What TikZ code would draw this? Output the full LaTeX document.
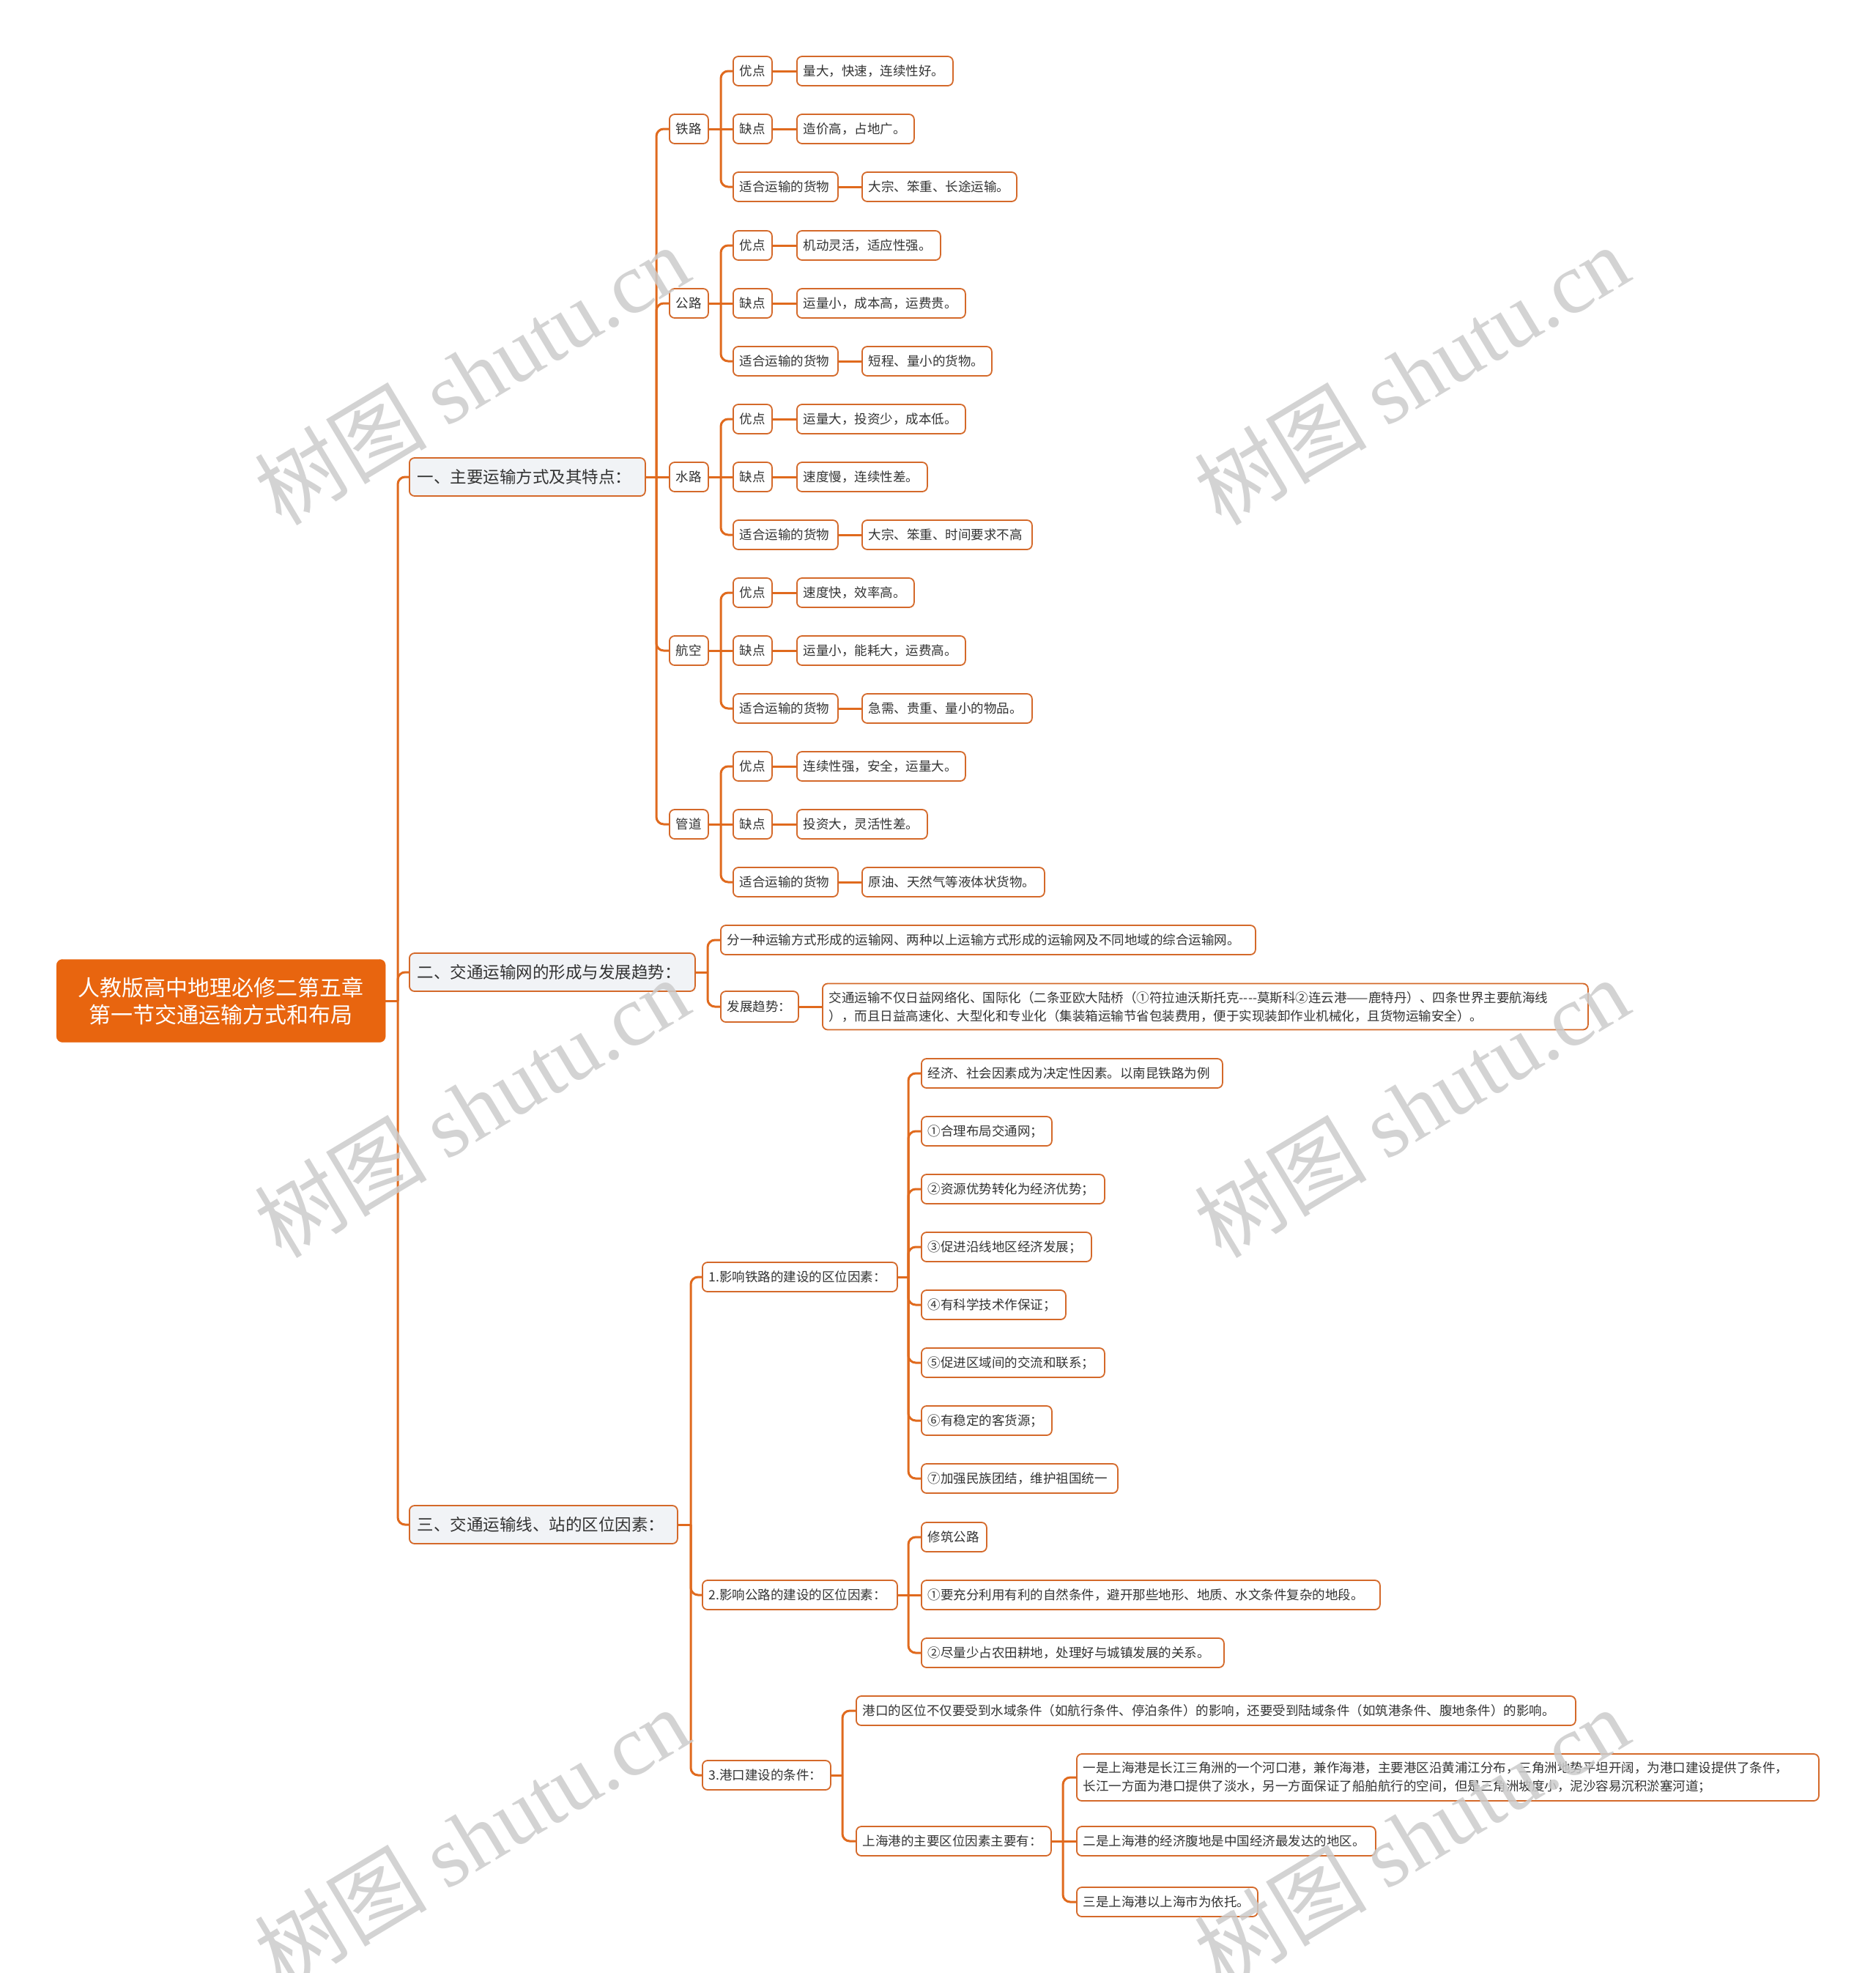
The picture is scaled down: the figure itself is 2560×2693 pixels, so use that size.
\documentclass[tikz,border=0pt]{standalone}
\usepackage{fontspec}
\setmainfont{Noto Sans CJK SC}
\newfontfamily\wmlatin{Liberation Serif}
\definecolor{rootcol}{HTML}{E8650F}
\definecolor{bordercol}{HTML}{D4692A}
\definecolor{linecol}{HTML}{E06A1E}
\definecolor{lvlfill}{HTML}{F1F3F6}
\definecolor{textcol}{HTML}{333333}
\definecolor{wmcol}{HTML}{CCCCCC}
\pgfdeclarelayer{bglayer}
\pgfsetlayers{bglayer,main}
\tikzset{
  conn/.style={draw=linecol, line width=3pt},
  mmw/.code={\pgfmathsetlengthmacro\mmtwidth{#1pt-18pt}\edef\mmtmp{\noexpand\tikzset{text width=\mmtwidth}}\mmtmp},
  mmbox/.style={draw=bordercol, line width=1.8pt, rounded corners=7pt, fill=white, anchor=west,
    inner xsep=9pt, inner ysep=0pt, minimum height=40pt, text=textcol, align=left,
    font=\fontsize{17.5}{25}\selectfont},
  mmlvl/.style={mmbox, fill=lvlfill, inner xsep=11pt, minimum height=52pt, font=\fontsize{22.5}{30}\selectfont},
  mmroot/.style={fill=rootcol, draw=rootcol, rounded corners=8pt, anchor=west, minimum height=113pt,
    text width=429pt, inner xsep=10pt, align=center, text=white, font=\fontsize{30}{37}\selectfont},
  wm/.style={text=wmcol, opacity=0.85, rotate=31, font=\fontsize{118}{130}\selectfont},
}
\newcommand\mmlink[3]{\draw[conn] (#1.east) -- (#1.east -| #2);
  \draw[conn, rounded corners=10pt] (#1.east -| #2) |- (#3.west);}
\newcommand\mmstraight[2]{\draw[conn] (#1.east) -- (#2.west);}
\newcommand\mmgroup[9]{%
  \node[mmbox,mmw=53] (#1) at (913,#3) {#2};
  \node[mmbox,mmw=53] (#1A) at (1000,#3-79) {优点};
  \node[mmbox,mmw=53] (#1B) at (1000,#3) {缺点};
  \node[mmbox,mmw=143] (#1C) at (1000,#3+79) {适合运输的货物};
  \node[mmbox,mmw=#5] (#1AV) at (1087,#3-79) {#4};
  \node[mmbox,mmw=#7] (#1BV) at (1087,#3) {#6};
  \node[mmbox,mmw=#9] (#1CV) at (1176,#3+79) {#8};
}
\newcommand\mmgroupconn[1]{%
  \mmlink{s1}{j1}{#1}
  \mmlink{#1}{j1b}{#1A}
  \mmstraight{#1}{#1B}
  \mmlink{#1}{j1b}{#1C}
  \mmstraight{#1A}{#1AV}
  \mmstraight{#1B}{#1BV}
  \mmstraight{#1C}{#1CV}
}
\begin{document}
\begin{tikzpicture}[x=1pt,y=-1pt]
\begin{pgfonlayer}{bglayer}
\fill[white] (0,0) rectangle (2560,2693);
\end{pgfonlayer}
\useasboundingbox (0,0) rectangle (2560,2693);

\coordinate (j0) at (543,0);
\coordinate (j1) at (896,0);
\coordinate (j1b) at (984,0);
\coordinate (j2) at (966,0);
\coordinate (j3) at (943,0);
\coordinate (j3a) at (1240,0);
\coordinate (j3c) at (1150,0);
\coordinate (j3d) at (1451,0);

% root and level 1
\node[mmroot] (root) at (77,1366) {人教版高中地理必修二第五章\\第一节交通运输方式和布局};
\node[mmlvl, text width=300pt] (s1) at (558,651) {一、主要运输方式及其特点：};
\node[mmlvl, text width=368pt] (s2) at (558,1327) {二、交通运输网的形成与发展趋势：};
\node[mmlvl, text width=344pt] (s3) at (558,2081) {三、交通运输线、站的区位因素：};

% section 1
\mmgroup{tl}{铁路}{176}{量大，快速，连续性好。}{213}{造价高，占地广。}{160}{大宗、笨重、长途运输。}{211}
\mmgroup{gl}{公路}{414}{机动灵活，适应性强。}{196}{运量小，成本高，运费贵。}{230}{短程、量小的货物。}{177}
\mmgroup{sl}{水路}{651}{运量大，投资少，成本低。}{230}{速度慢，连续性差。}{178}{大宗、笨重、时间要求不高}{232}
\mmgroup{hk}{航空}{888}{速度快，效率高。}{160}{运量小，能耗大，运费高。}{230}{急需、贵重、量小的物品。}{232}
\mmgroup{gd}{管道}{1125}{连续性强，安全，运量大。}{230}{投资大，灵活性差。}{178}{原油、天然气等液体状货物。}{249}

% section 2
\node[mmbox,mmw=730] (n2a) at (983,1283) {分一种运输方式形成的运输网、两种以上运输方式形成的运输网及不同地域的综合运输网。};
\node[mmbox,mmw=106,minimum height=42pt] (n2b) at (983,1374) {发展趋势：};
\node[mmbox,mmw=1045,minimum height=63pt] (n2c) at (1122,1374) {交通运输不仅日益网络化、国际化（二条亚欧大陆桥（①符拉迪沃斯托克-{}-{}-{}-莫斯科②连云港——鹿特丹）、四条世界主要航海线\\），而且日益高速化、大型化和专业化（集装箱运输节省包装费用，便于实现装卸作业机械化，且货物运输安全）。};

% section 3
\node[mmbox,mmw=266] (r1) at (958,1743) {1.影响铁路的建设的区位因素：};
\node[mmbox,mmw=266] (r2) at (958,2177) {2.影响公路的建设的区位因素：};
\node[mmbox,mmw=175] (r3) at (958,2423) {3.港口建设的条件：};

\node[mmbox,mmw=411] (r1a) at (1257,1465) {经济、社会因素成为决定性因素。以南昆铁路为例};
\node[mmbox,mmw=178] (r1b) at (1257,1544) {①合理布局交通网；};
\node[mmbox,mmw=250] (r1c) at (1257,1623) {②资源优势转化为经济优势；};
\node[mmbox,mmw=232] (r1d) at (1257,1702) {③促进沿线地区经济发展；};
\node[mmbox,mmw=197] (r1e) at (1257,1781) {④有科学技术作保证；};
\node[mmbox,mmw=250] (r1f) at (1257,1860) {⑤促进区域间的交流和联系；};
\node[mmbox,mmw=178] (r1g) at (1257,1939) {⑥有稳定的客货源；};
\node[mmbox,mmw=268] (r1h) at (1257,2018) {⑦加强民族团结，维护祖国统一};

\node[mmbox,mmw=89] (r2a) at (1257,2098) {修筑公路};
\node[mmbox,mmw=626] (r2b) at (1257,2177) {①要充分利用有利的自然条件，避开那些地形、地质、水文条件复杂的地段。};
\node[mmbox,mmw=413] (r2c) at (1257,2256) {②尽量少占农田耕地，处理好与城镇发展的关系。};

\node[mmbox,mmw=982] (r3a) at (1168,2335) {港口的区位不仅要受到水域条件（如航行条件、停泊条件）的影响，还要受到陆域条件（如筑港条件、腹地条件）的影响。};
\node[mmbox,mmw=266] (r3b) at (1168,2513) {上海港的主要区位因素主要有：};
\node[mmbox,mmw=1013,minimum height=64pt] (r3c) at (1469,2426) {一是上海港是长江三角洲的一个河口港，兼作海港，主要港区沿黄浦江分布，三角洲地势平坦开阔，为港口建设提供了条件，\\长江一方面为港口提供了淡水，另一方面保证了船舶航行的空间，但是三角洲坡度小，泥沙容易沉积淤塞河道；};
\node[mmbox,mmw=408] (r3d) at (1469,2513) {二是上海港的经济腹地是中国经济最发达的地区。};
\node[mmbox,mmw=247] (r3e) at (1469,2596) {三是上海港以上海市为依托。};

% connectors
\begin{pgfonlayer}{bglayer}
\mmlink{root}{j0}{s1}
\mmlink{root}{j0}{s2}
\mmlink{root}{j0}{s3}
\mmgroupconn{tl}
\mmgroupconn{gl}
\mmstraight{s1}{sl}
\mmlink{sl}{j1b}{slA}
\mmstraight{sl}{slB}
\mmlink{sl}{j1b}{slC}
\mmstraight{slA}{slAV}
\mmstraight{slB}{slBV}
\mmstraight{slC}{slCV}
\mmgroupconn{hk}
\mmgroupconn{gd}
\mmlink{s2}{j2}{n2a}
\mmlink{s2}{j2}{n2b}
\mmstraight{n2b}{n2c}
\mmlink{s3}{j3}{r1}
\mmlink{s3}{j3}{r2}
\mmlink{s3}{j3}{r3}
\mmlink{r1}{j3a}{r1a}
\mmlink{r1}{j3a}{r1b}
\mmlink{r1}{j3a}{r1c}
\mmlink{r1}{j3a}{r1d}
\mmlink{r1}{j3a}{r1e}
\mmlink{r1}{j3a}{r1f}
\mmlink{r1}{j3a}{r1g}
\mmlink{r1}{j3a}{r1h}
\mmlink{r2}{j3a}{r2a}
\mmstraight{r2}{r2b}
\mmlink{r2}{j3a}{r2c}
\mmlink{r3}{j3c}{r3a}
\mmlink{r3}{j3c}{r3b}
\mmlink{r3b}{j3d}{r3c}
\mmstraight{r3b}{r3d}
\mmlink{r3b}{j3d}{r3e}
\end{pgfonlayer}

% watermarks
\node[wm] (wm1) at (644,511) {树图 {\wmlatin shutu.cn}};
\node[wm] (wm2) at (1927,511) {树图 {\wmlatin shutu.cn}};
\node[wm] (wm3) at (644,1511) {树图 {\wmlatin shutu.cn}};
\node[wm] (wm4) at (1927,1511) {树图 {\wmlatin shutu.cn}};
\node[wm] (wm5) at (644,2507) {树图 {\wmlatin shutu.cn}};
\node[wm] (wm6) at (1927,2507) {树图 {\wmlatin shutu.cn}};
\end{tikzpicture}
\end{document}
